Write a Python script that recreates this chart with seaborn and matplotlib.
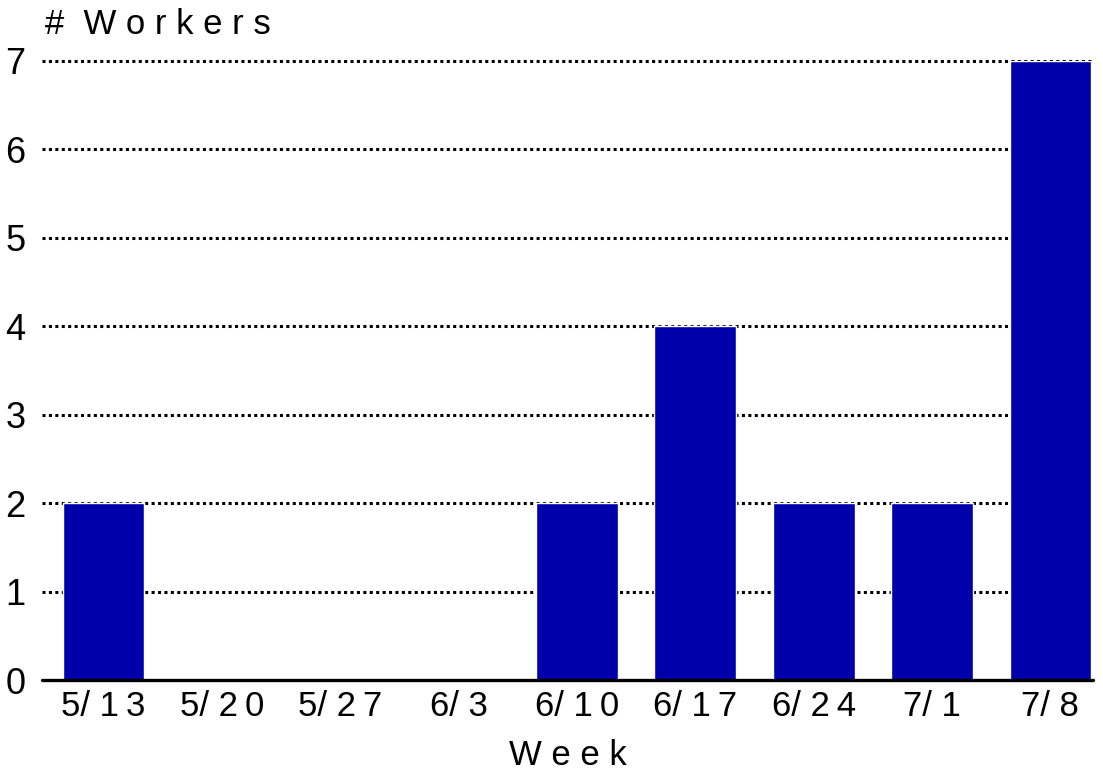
import matplotlib
matplotlib.use("Agg")
import matplotlib.pyplot as plt
import seaborn as sns
import pandas as pd

weeks = ["5/13", "5/20", "5/27", "6/3", "6/10", "6/17", "6/24", "7/1", "7/8"]
workers = [2, 0, 0, 0, 2, 4, 2, 2, 7]
yticks = [0, 1, 2, 3, 4, 5, 6, 7]

sns.set_style("white")
plt.rcParams["font.family"] = ["Liberation Sans", "DejaVu Sans"]
plt.rcParams["text.color"] = "black"
plt.rcParams["xtick.color"] = "black"
plt.rcParams["ytick.color"] = "black"
plt.rcParams["axes.labelcolor"] = "black"

def spread(s):
    a, b = s.split("/")
    return a + "/ " + "\u2009".join(b)

df = pd.DataFrame({"week": weeks, "n": workers})

fig = plt.figure(figsize=(11.03, 7.77), dpi=100)
ax = fig.add_axes([42 / 1103, 97 / 777, (1093 - 42) / 1103, (680 - 61) / 777])
sns.barplot(data=df, x="week", y="n", color="#0000AA", saturation=1, width=0.69, ax=ax, zorder=3)
ax.set_xlim(-0.52, 8.36)
ax.set_ylim(0, 7)
ax.set_yticks(yticks)
ax.set_yticklabels([str(v) for v in yticks], fontsize=26)
ax.set_xticks(range(len(weeks)))
ax.set_xticklabels([spread(w) for w in weeks], fontsize=25)
ax.tick_params(axis="both", length=0)
ax.tick_params(axis="x", pad=7)
ax.tick_params(axis="y", pad=12)
for v in yticks[1:]:
    ax.axhline(v, color="black", linestyle=(0, (1, 1.1)), linewidth=2.2, zorder=1, clip_on=False)
ax.axhline(0, color="black", linewidth=2.4, zorder=4, clip_on=False)
for s in ax.spines.values():
    s.set_visible(False)
ax.set_xlabel("W e e k", fontsize=25, labelpad=12)
ax.set_ylabel("")
fig.text(45 / 1103, 1 - 25 / 777, "#  W o r k e r s", fontsize=25, ha="left", va="center")
fig.savefig("out.png", dpi=100)
